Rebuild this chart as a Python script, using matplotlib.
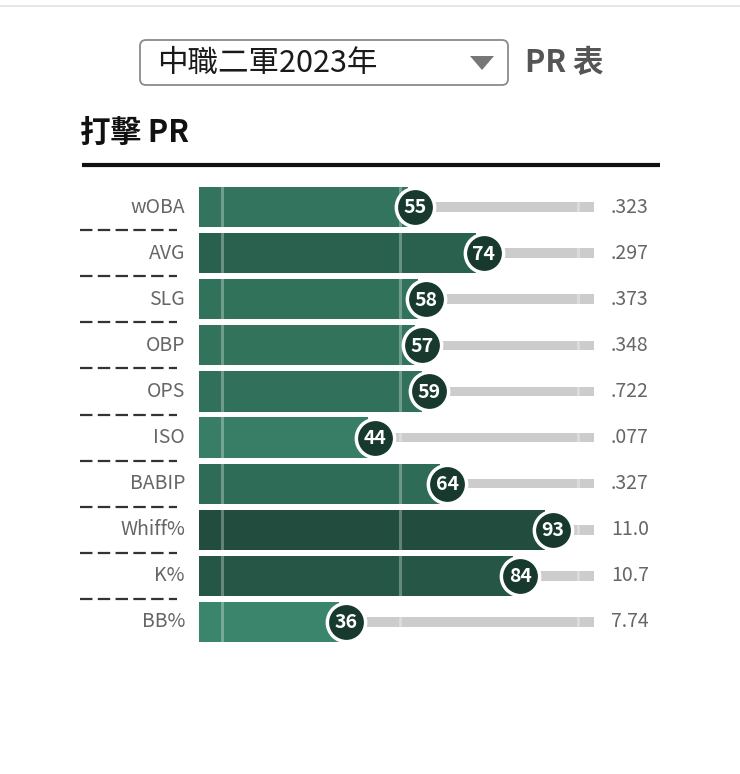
import matplotlib
matplotlib.use("Agg")
import matplotlib.pyplot as plt
import matplotlib.transforms as mtransforms
from matplotlib.patches import FancyBboxPatch, Polygon
from matplotlib.colors import LinearSegmentedColormap

plt.rcParams['font.family'] = ['Noto Sans CJK TC', 'DejaVu Sans']

# data
metrics = ["wOBA", "AVG", "SLG", "OBP", "OPS", "ISO", "BABIP", "Whiff%", "K%", "BB%"]
pr_values = [55, 74, 58, 57, 59, 44, 64, 93, 84, 36]
raw_values = [".323", ".297", ".373", ".348", ".722", ".077", ".327", "11.0", "10.7", "7.74"]
season_label = "中職二軍2023年"
table_label = "PR 表"
section_title = "打擊 PR"

W, H = 740, 774
fig = plt.figure(figsize=(W / 100, H / 100), dpi=100)

# background axes in pixel coordinates for header stuff
bg = fig.add_axes([0, 0, 1, 1])
bg.set_xlim(0, W)
bg.set_ylim(H, 0)
bg.axis("off")

bg.plot([0, W], [6, 6], color="#e2e2e2", lw=1.2)

# dropdown
box = FancyBboxPatch((140, 40), 368, 45, boxstyle="round,pad=0,rounding_size=6",
                     fc="white", ec="#8a8a8a", lw=1.3)
bg.add_patch(box)
bg.text(157, 63, season_label, fontsize=22, color="#1a1a1a", va="center", ha="left")
bg.add_patch(Polygon([[470, 56], [494, 56], [482, 70]], closed=True, fc="#777777", ec="none"))
bg.text(525, 63, table_label, fontsize=22, color="#555555", va="center", ha="left",
        fontweight="bold")

bg.text(80, 134, section_title, fontsize=22, color="#111111", va="center", ha="left",
        fontweight="bold")
bg.plot([82, 660], [165, 165], color="#111111", lw=3, solid_capstyle="butt")

# chart axes: x in PR units, circle centres land on the value
ax = fig.add_axes([199 / W, (H - 645) / H, (594 - 199) / W, (645 - 184) / H])
x_left, x_right = -4.5, 104.4
ax.set_xlim(x_left, x_right)
ax.set_ylim(len(metrics) - 0.5, -0.5)
ax.axis("off")

cmap = LinearSegmentedColormap.from_list("pr", ["#3e8a70", "#2f6e58", "#214a3c"])
rows = range(len(metrics))

# grey track
ax.barh(rows, [x_right - x_left] * len(metrics), left=x_left, height=0.21,
        color="#cccccc", zorder=1)
# PR bars
bar_colors = [cmap((v - 30) / 65) for v in pr_values]
ax.barh(rows, [v - 2 - x_left for v in pr_values], left=x_left, height=0.87,
        color=bar_colors, zorder=2)
# guide lines
for gx in [1.85, 50.9, 100]:
    ax.axvline(gx, color="white", alpha=0.3, lw=2.2, zorder=3)
# circles
ax.scatter(pr_values, list(rows), s=760, color="#183a2e", edgecolors="white",
           linewidths=2.5, zorder=4)
for i, v in enumerate(pr_values):
    ax.text(v, i + 0.02, str(v), color="white", fontsize=14, fontweight="bold",
            ha="center", va="center", zorder=5)

trans = mtransforms.blended_transform_factory(bg.transData, ax.transData)
for i, (name, raw) in enumerate(zip(metrics, raw_values)):
    ax.text(185, i, name, transform=trans, ha="right", va="center", fontsize=14,
            color="#666666")
    ax.text(611, i, raw, transform=trans, ha="left", va="center", fontsize=14,
            color="#666666")
    if i < len(metrics) - 1:
        ax.plot([80, 177], [i + 0.5, i + 0.5], transform=trans, clip_on=False,
                color="#333333", lw=1.6, linestyle=(0, (5.6, 2.4)))

fig.savefig("out.png", dpi=100)
